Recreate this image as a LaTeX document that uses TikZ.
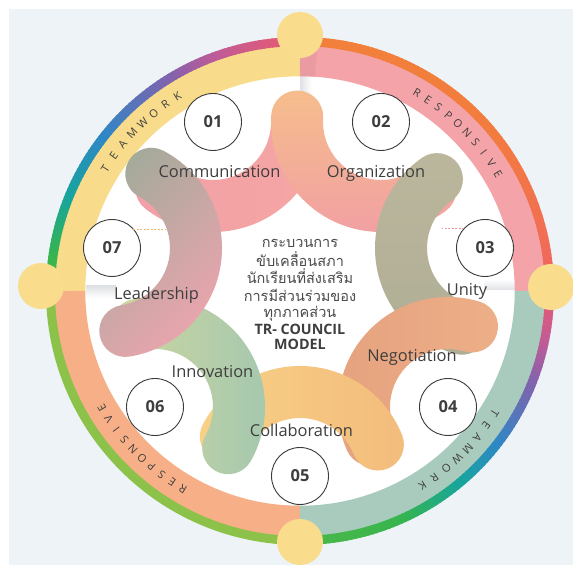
\documentclass[tikz,border=0pt]{standalone}
\usepackage{fontspec}
\setmainfont{Open Sans}
\newfontfamily\thaifont[Script=Thai]{Loma}
\usetikzlibrary{calc}

\definecolor{bgc}{HTML}{EDF3F6}
\definecolor{bandyellow}{HTML}{F8DB8B}
\definecolor{bandpink}{HTML}{F4A3A8}
\definecolor{bandpinkd}{HTML}{E3979D}
\definecolor{bandpeach}{HTML}{F7AF87}
\definecolor{bandsage}{HTML}{A9CBBE}
\definecolor{knobc}{HTML}{F9DD8D}
\definecolor{lpink}{HTML}{EE5A6E}
\definecolor{lmag}{HTML}{BE5B98}
\definecolor{lpurp}{HTML}{7F63AE}
\definecolor{lblue}{HTML}{2E88C6}
\definecolor{lteal}{HTML}{17A59C}
\definecolor{lgreen}{HTML}{37B54E}
\definecolor{lgreenb}{HTML}{4DB848}
\definecolor{lred}{HTML}{EE6166}
\definecolor{lredor}{HTML}{F16E55}
\definecolor{lorange}{HTML}{F27C3D}
\definecolor{lorangeb}{HTML}{F2813A}
\definecolor{lyg}{HTML}{8CC24A}
\definecolor{txtc}{HTML}{3E3E3E}
\definecolor{numline}{HTML}{3A3A3A}
\definecolor{thaic}{HTML}{4A4A4A}
\definecolor{foldc}{HTML}{DFE2E5}
% hook colours
\definecolor{comA}{HTML}{F29FA7}
\definecolor{comB}{HTML}{F5A6A3}
\definecolor{orgA}{HTML}{F6BD8C}
\definecolor{orgB}{HTML}{F1A0A3}
\definecolor{uniA}{HTML}{BBB79D}
\definecolor{uniB}{HTML}{AFAD95}
\definecolor{negA}{HTML}{E5A27E}
\definecolor{negB}{HTML}{EDAF88}
\definecolor{colA}{HTML}{F8D186}
\definecolor{colB}{HTML}{F3BC7C}
\definecolor{innA}{HTML}{CFD79F}
\definecolor{innB}{HTML}{A2C7B0}
\definecolor{leaA}{HTML}{A6AA9B}
\definecolor{leaM}{HTML}{C2A8A6}
\definecolor{leaB}{HTML}{EEA4AE}
\definecolor{dashO}{HTML}{F2B46A}
\definecolor{dashP}{HTML}{E79A9A}

\newcommand\gradarc[4]{%
  \pgfmathtruncatemacro\gN{abs((#2)-(#1))}%
  \foreach \k in {1,...,\gN}{%
    \pgfmathsetmacro\gA{(#1)+((#2)-(#1))*(\k-1)/\gN}%
    \pgfmathsetmacro\gB{(#1)+((#2)-(#1))*\k/\gN+0.6*sign((#2)-(#1))}%
    \pgfmathtruncatemacro\gP{100*(\k-0.5)/\gN}%
    \draw[line width=9pt, color=#4!\gP!#3] (C) ++(\gA:249.5pt) arc[start angle=\gA, end angle=\gB, radius=249.5pt];
  }%
}

\newcommand\hookband[4]{%
  \shade[#4] ($(#1)+(#2:110pt)$) arc[start angle=#2, end angle=#3, radius=110pt]
    arc[start angle=#3, end angle=#3+180, radius=26pt]
    arc[start angle=#3, end angle=#2, radius=58pt]
    arc[start angle=#2+180, end angle=#2+360, radius=26pt] -- cycle;
}

\tikzset{
  ringlet/.style={font=\fontsize{11}{12}\selectfont, text=txtc, inner sep=0pt},
  numc/.style={circle, draw=numline, line width=0.9pt, fill=white, minimum size=57pt, inner sep=0pt,
    font=\bfseries\fontsize{16.5}{18}\selectfont, text=txtc},
  lab/.style={anchor=base, inner sep=0pt, font=\fontsize{16.4}{18}\selectfont, text=txtc},
  thl/.style={anchor=base, inner sep=0pt, font=\thaifont\fontsize{14.5}{16}\selectfont, text=thaic},
  bl/.style={anchor=base, inner sep=0pt, font=\bfseries\fontsize{14.3}{16}\selectfont, text=txtc},
  knob/.style={fill=knobc},
  dashline/.style={draw=#1, line width=0.8pt, dash pattern=on 2pt off 1.5pt}
}

\begin{document}
\begin{tikzpicture}[x=1pt,y=1pt]
\useasboundingbox (0,0) rectangle (573,569);
\fill[white] (0,0) rectangle (573,569);
\fill[bgc] (9,4) rectangle (573,560);

\coordinate (C) at (300,278);

% white inner disk
\fill[white] (C) circle[radius=216pt];

% fold shadows inside the disk
\shade[left color=foldc, right color=white] (300,468) rectangle (312,494);
\shade[top color=foldc, bottom color=white] (86,271) rectangle (116,283);
\shade[bottom color=foldc, top color=white] (484,279) rectangle (515,290);
\shade[right color=foldc, left color=white] (288,62) rectangle (300,88);

% thick band
\draw[line width=31pt, bandpink]   (C) ++(0:230.25pt)   arc[start angle=0,   end angle=90,  radius=230.25pt];
\draw[line width=31pt, bandyellow] (C) ++(90:230.25pt)  arc[start angle=90,  end angle=180, radius=230.25pt];
\draw[line width=31pt, bandpeach]  (C) ++(180:230.25pt) arc[start angle=180, end angle=270, radius=230.25pt];
\draw[line width=31pt, bandsage]   (C) ++(270:230.25pt) arc[start angle=270, end angle=360, radius=230.25pt];
\draw[line width=31pt, bandpinkd, opacity=0.6] (C) ++(86:230.25pt) arc[start angle=86, end angle=90, radius=230.25pt];

% thin outer gradient line
\gradarc{90}{110}{lpink}{lmag}
\gradarc{110}{122}{lmag}{lpurp}
\gradarc{122}{142}{lpurp}{lblue}
\gradarc{142}{158}{lblue}{lteal}
\gradarc{158}{172}{lteal}{lgreen}
\gradarc{172}{180}{lgreen}{lgreenb}
\gradarc{0}{12}{lred}{lredor}
\gradarc{12}{40}{lredor}{lorange}
\gradarc{40}{90}{lorange}{lorangeb}
\gradarc{0}{-12}{lpink}{lmag}
\gradarc{-12}{-22}{lmag}{lpurp}
\gradarc{-22}{-38}{lpurp}{lblue}
\gradarc{-38}{-50}{lblue}{lteal}
\gradarc{-50}{-66}{lteal}{lgreen}
\gradarc{-66}{-90}{lgreen}{lgreenb}
\draw[line width=9pt, lyg] (C) ++(180:249.5pt) arc[start angle=180, end angle=270, radius=249.5pt];

% knobs
\fill[knob] (300,534) circle[radius=23pt];
\fill[knob] (41,283) circle[radius=23pt];
\fill[knob] (551,282) circle[radius=23pt];
\fill[knob] (300,27) circle[radius=23pt];

% ring words
\foreach \L [count=\i] in {T,E,A,M,W,O,R,K}{
  \pgfmathsetmacro\ang{135+3.65*3.5-3.65*(\i-1)}
  \node[ringlet, rotate=\ang-90] (twa\i) at ($(C)+(\ang:230pt)$) {\L};
}
\foreach \L [count=\i] in {R,E,S,P,O,N,S,I,V,E}{
  \pgfmathsetmacro\ang{45+3.2*4.5-3.2*(\i-1)}
  \node[ringlet, rotate=\ang-90] (rsa\i) at ($(C)+(\ang:230pt)$) {\L};
}
\foreach \L [count=\i] in {T,E,A,M,W,O,R,K}{
  \pgfmathsetmacro\ang{-45+3.65*3.5-3.65*(\i-1)}
  \node[ringlet, rotate=\ang-90] (twb\i) at ($(C)+(\ang:230pt)$) {\L};
}
\foreach \L [count=\i] in {R,E,S,P,O,N,S,I,V,E}{
  \pgfmathsetmacro\ang{-135+3.2*4.5-3.2*(\i-1)}
  \node[ringlet, rotate=\ang-90] (rsb\i) at ($(C)+(\ang:230pt)$) {\L};
}

% number centres
\coordinate (c01) at (213,447);
\coordinate (c02) at (381,447);
\coordinate (c03) at (485,321);
\coordinate (c04) at (448,162);
\coordinate (c05) at (300,93);
\coordinate (c06) at (155,162);
\coordinate (c07) at (112,321);

% hooks (pinwheel)
\hookband{c01}{232}{357}{left color=comA, right color=comB}
\hookband{c02}{176.3}{306}{top color=orgA, bottom color=orgB}
\hookband{c03}{124.9}{254}{top color=uniA, bottom color=uniB}
\hookband{c04}{73.4}{203}{left color=negA, right color=negB}
\hookband{c05}{22}{152}{left color=colA, right color=colB}
\hookband{c06}{330.6}{462}{left color=innA, right color=innB}
\hookband{c07}{279.1}{422.1}{left color=leaA, middle color=leaM, right color=leaB, shading angle=45}

% number circles
\node[numc] (n01) at (c01) {01};
\node[numc] (n02) at (c02) {02};
\node[numc] (n03) at (c03) {03};
\node[numc] (n04) at (c04) {04};
\node[numc] (n05) at (c05) {05};
\node[numc] (n06) at (c06) {06};
\node[numc] (n07) at (c07) {07};

% small dashed marks
\draw[dashline=dashO] ([shift={(21pt,19pt)}]n07.center) -- ++(32pt,0pt);
\draw[dashline=dashP] ([shift={(-21pt,20pt)}]n03.center) -- ++(-22pt,0pt);

% labels
\node[lab] (lcom) at (219.5,391) {Communication};
\node[lab] (lorg) at (376,391) {Organization};
\node[lab] (luni) at (467,273) {Unity};
\node[lab] (lneg) at (412,207) {Negotiation};
\node[lab] (lcol) at (301.5,132) {Collaboration};
\node[lab] (linn) at (212.5,191) {Innovation};
\node[lab] (llea) at (156.5,269) {Leadership};

% centre text
\node[thl] (t1) at (300,321) {กระบวนการ};
\node[thl] (t2) at (300,302) {ขับเคลื่อนสภา};
\node[thl] (t3) at (300,285) {นักเรียนที่ส่งเสริม};
\node[thl] (t4) at (300,267.5) {การมีส่วนร่วมของ};
\node[thl] (t5) at (300,251) {ทุกภาคส่วน};
\node[bl] (t6) at (300,234.5) {TR- COUNCIL};
\node[bl] (t7) at (300,219) {MODEL};
\end{tikzpicture}
\end{document}
